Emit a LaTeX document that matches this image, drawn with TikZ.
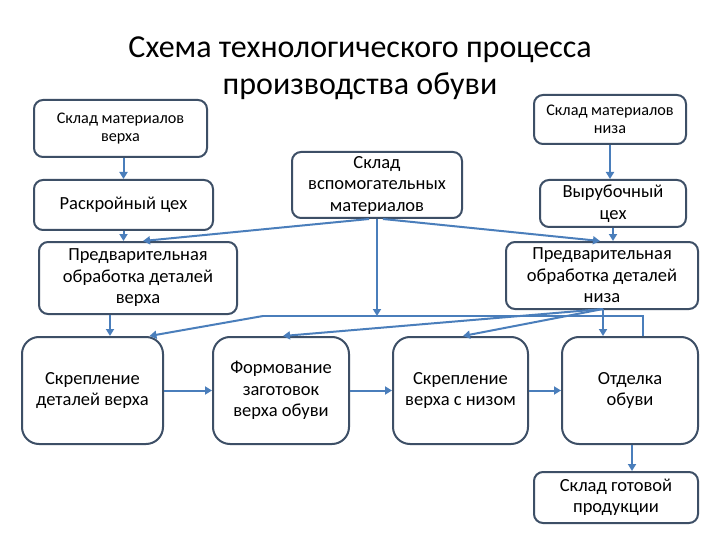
\documentclass[tikz,border=0pt]{standalone}
\usepackage{fontspec}
\setmainfont{Carlito}
\usetikzlibrary{arrows.meta,calc}
\definecolor{boxline}{HTML}{3D4F66}
\definecolor{arrowc}{HTML}{4A7EBB}
\begin{document}
\begin{tikzpicture}[x=1pt,y=-1pt,
  box/.style={draw=boxline, line width=2pt, rounded corners=9pt, fill=white,
    align=center, inner sep=0pt, font=\fontsize{18.5}{21.5}\selectfont},
  smallbox/.style={box, font=\fontsize{16.2}{17.5}\selectfont},
  bigbox/.style={box, rounded corners=17pt, minimum height=107pt},
  arr/.style={draw=arrowc, line width=2pt, -{Triangle[length=7pt,width=8pt]}},
  ln/.style={draw=arrowc, line width=2pt},
  titlefont/.style={font=\fontsize{32}{37}\selectfont, inner sep=0pt, anchor=base}]
\useasboundingbox (0,0) rectangle (720,540);
\fill[white] (0,0) rectangle (720,540);

\node[titlefont] (t1) at (360,58) {Схема технологического процесса};
\node[titlefont] (t2) at (360,95) {производства обуви};

\node[smallbox, minimum width=173pt, minimum height=57pt] (smv) at (120.5,128.5) {Склад материалов\\верха};
\node[box, minimum width=179pt, minimum height=50pt] (raskr) at (123.5,205) {Раскройный цех};
\node[box, minimum width=198pt, minimum height=72pt] (pvv) at (138,278) {Предварительная\\обработка деталей\\верха};
\node[box, minimum width=170pt, minimum height=66pt] (aux) at (377,185) {Склад\\вспомогательных\\материалов};
\node[smallbox, minimum width=152pt, minimum height=49pt] (smn) at (610,119.5) {Склад материалов\\низа};
\node[box, minimum width=146pt, minimum height=47pt] (vyr) at (613,203.5) {Вырубочный\\цех};
\node[box, minimum width=192pt, minimum height=67pt] (pvn) at (602,275.5) {Предварительная\\обработка деталей\\низа};

\node[bigbox, minimum width=141pt] (skv) at (92.5,390.5) {Скрепление\\деталей верха};
\node[bigbox, minimum width=136pt] (form) at (281,390.5) {Формование\\заготовок\\верха обуви};
\node[bigbox, minimum width=135pt] (svn) at (460.5,390.5) {Скрепление\\верха с низом};
\node[bigbox, minimum width=136pt] (otd) at (630,390.5) {Отделка\\обуви};
\node[box, minimum width=164pt, minimum height=51pt] (skg) at (616,497.5) {Склад готовой\\продукции};

% left column
\draw[arr] (smv.south -| raskr) -- (raskr.north);
\draw[arr] (raskr.south) -- (raskr.south |- pvv.north);
\draw[arr] ([xshift=-28pt]pvv.south) -- ([xshift=-28pt]pvv.south |- skv.north);

% right column
\draw[arr] (smn.south) -- (smn.south |- vyr.north);
\draw[arr] (vyr.south) -- (vyr.south |- pvn.north);

% auxiliary materials
\coordinate (busL) at (263,316);
\coordinate (busA) at (377,316);
\coordinate (busR) at (643,316);
\draw[arr] ([xshift=-8pt]aux.south) -- ([xshift=5pt]pvv.north);
\draw[arr] ([xshift=6pt]aux.south) -- ([xshift=-2pt]pvn.north);
\draw[arr] (aux.south) -- (busA);
\draw[ln] (busL) -- (busR) -- (busR |- otd.north);
\draw[arr] (busL) -- ([xshift=57pt]skv.north);

% from sole preparation
\coordinate (pvnOut) at (603,309);
\draw[arr] (pvnOut) -- ([xshift=2pt]form.north);
\draw[arr] (pvnOut) -- ([xshift=2.5pt]svn.north);
\draw[arr] (pvnOut) -- (pvnOut |- otd.north);

% main line
\draw[arr] (skv.east) -- (form.west);
\draw[arr] (form.east) -- (svn.west);
\draw[arr] (svn.east) -- (otd.west);
\draw[arr] ([xshift=2pt]otd.south) -- ([xshift=2pt]otd.south |- skg.north);
\end{tikzpicture}
\end{document}
